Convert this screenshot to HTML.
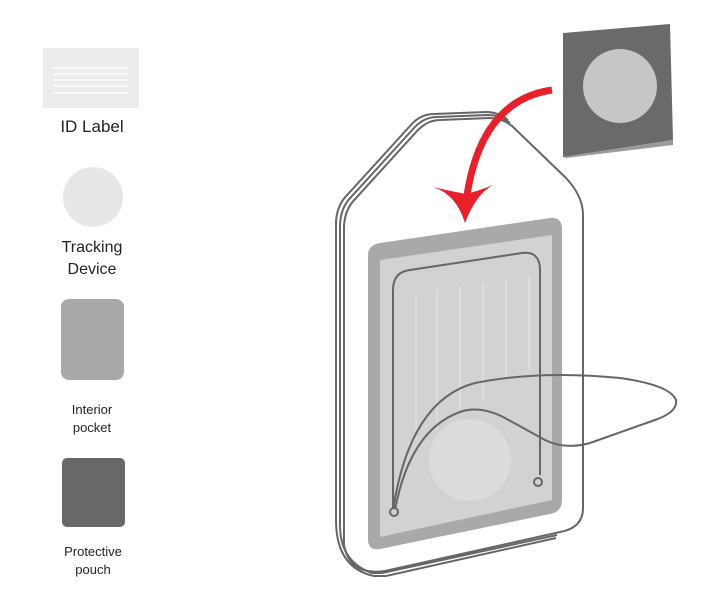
<!DOCTYPE html>
<html><head><style>body{margin:0;background:#fff}svg{display:block}text{font-family:"Liberation Sans",sans-serif;fill:#222}</style></head><body>
<svg width="720" height="600" viewBox="0 0 720 600">
<rect x="43" y="48" width="96" height="60" fill="#ececec"/>
<g stroke="#fff" stroke-width="1.3"><line x1="53" y1="68" x2="128" y2="68"/><line x1="53" y1="74" x2="128" y2="74"/><line x1="53" y1="80" x2="128" y2="80"/><line x1="53" y1="86" x2="128" y2="86"/><line x1="53" y1="93" x2="128" y2="93"/></g>
<text x="92" y="132" font-size="17" text-anchor="middle">ID Label</text>
<circle cx="93" cy="197" r="30" fill="#e7e7e7"/>
<text x="92" y="252" font-size="16" text-anchor="middle">Tracking</text>
<text x="92" y="274" font-size="16" text-anchor="middle">Device</text>
<rect x="61" y="299" width="63" height="81" rx="8" fill="#a7a8aa"/>
<text x="92" y="414" font-size="13" text-anchor="middle">Interior</text>
<text x="92" y="432" font-size="13" text-anchor="middle">pocket</text>
<rect x="62" y="458" width="63" height="69" rx="5" fill="#68686b"/>
<text x="93" y="556" font-size="13" text-anchor="middle">Protective</text>
<text x="93" y="574" font-size="13" text-anchor="middle">pouch</text>

<g fill="none" stroke="#666" stroke-width="2">
<path d="M344,525 L344,228 Q344,210 356,198 L418,130 Q428,120 440,120 L490,118 Q502,118 512,126 L566,178 Q583,196 583,215 L583,508 Q583,528 560,532 L385,571 Q350,576 344,545 Z" fill="#fff"/>
<path d="M340,525 L340,226 Q340,208 352,196 L414,128 Q424,117 437,117 L488,115 Q500,115 510,123"/>
<path d="M336,520 L336,224 Q336,206 348,194 L410,126 Q420,114 434,114 L486,112 Q498,112 508,120"/>
<path d="M340,525 Q340,562 372,573 L382,573 L557,535"/>
<path d="M336,520 Q336,568 374,576 L386,576 L556,538"/>
</g>
<path d="M380,243 L550,218 Q562,217 562,229 L562,500 Q562,512 550,514 L380,549 Q368,551 368,539 L368,255 Q368,245 380,243 Z" fill="#a9a9a9"/>
<path d="M380,260 L552,235 L552,500 L380,537 Z" fill="#d2d2d2"/>
<g stroke="#e8e8e8" stroke-width="1"><line x1="416" y1="295" x2="416" y2="440"/><line x1="437" y1="290" x2="437" y2="430"/><line x1="460" y1="287" x2="460" y2="410"/><line x1="483" y1="283" x2="483" y2="400"/><line x1="506" y1="280" x2="506" y2="380"/><line x1="529" y1="276" x2="529" y2="370"/></g>
<circle cx="470" cy="460" r="41" fill="#dcdcdc"/>
<g fill="none" stroke="#666" stroke-width="2">
<path d="M393,508 L393,290 Q393,272 410,270 L522,253 Q540,251 540,270 L540,475"/>
<path d="M393,510 Q410,400 475,383 Q540,370 620,378 Q670,385 676,400 Q678,412 655,420 L590,443 Q565,450 545,440 L505,418 Q480,405 460,412 Q410,430 395,510"/>
</g>
<circle cx="394" cy="512" r="4" fill="#d2d2d2" stroke="#666" stroke-width="2"/>
<circle cx="538" cy="482" r="4" fill="#d2d2d2" stroke="#666" stroke-width="2"/>
<path d="M563,33 L670,24 L673,140 L563,157 Z" fill="#6a6a6d"/>
<path d="M563,157 L673,140 L673,145 L566,158 Z" fill="#9a9a9c"/>
<circle cx="620" cy="86" r="37" fill="#c6c6c6"/>
<path d="M552,90 Q482,100 467,195" fill="none" stroke="#e8202a" stroke-width="7"/>
<path d="M433,187 Q456,194 465,223 Q476,194 493,185 Q478,191 466,194 Q450,191 433,187 Z" fill="#e8202a"/>
</svg>
</body></html>
